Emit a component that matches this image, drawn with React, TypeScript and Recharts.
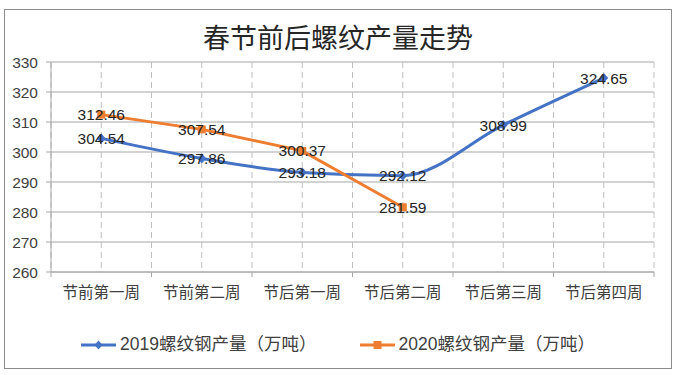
import React from 'react';
import { LineChart, Line, XAxis, YAxis, CartesianGrid } from 'recharts';

// 周次
const weeks = ['节前第一周', '节前第二周', '节后第一周', '节后第二周', '节后第三周', '节后第四周'];
// 螺纹钢产量（万吨）
const output2019 = [304.54, 297.86, 293.18, 292.12, 308.99, 324.65];
const output2020 = [312.46, 307.54, 300.37, 281.59, null, null];
const yTicks = [260, 270, 280, 290, 300, 310, 320, 330];

const BLUE = '#4472C4';
const ORANGE = '#ED7D31';
const FONT = '"Liberation Sans", "Noto Sans CJK SC", sans-serif';

const data = weeks.map((week, i) => ({
  week,
  y2019: output2019[i],
  y2020: output2020[i],
}));

const DiamondDot = (props: any) => {
  const { cx, cy, index } = props;
  if (cx == null || cy == null) return <g key={`d-${index}`} />;
  return (
    <path
      key={`d-${index}`}
      d={`M${cx},${cy - 5} L${cx + 4.5},${cy} L${cx},${cy + 5} L${cx - 4.5},${cy} Z`}
      fill={BLUE}
    />
  );
};

const SquareDot = (props: any) => {
  const { cx, cy, index } = props;
  if (cx == null || cy == null) return <g key={`s-${index}`} />;
  return <rect key={`s-${index}`} x={cx - 4} y={cy - 4} width={8} height={8} fill={ORANGE} />;
};

const valueLabel = (props: any) => {
  const { x, y, value, index } = props;
  if (value == null) return <g key={`l-${index}`} />;
  return (
    <text
      key={`l-${index}`}
      x={x}
      y={y}
      dy="0.36em"
      textAnchor="middle"
      fontSize={15.5}
      fontFamily={FONT}
      fill="#262626"
    >
      {value.toFixed(2)}
    </text>
  );
};

// 类目标签居中，刻度线画在类目之间
const WeekTick = (props: any) => {
  const { x, y, payload, index, visibleTicksCount } = props;
  const half = payload?.offset ?? 50;
  const last = index === (visibleTicksCount ?? weeks.length) - 1;
  return (
    <g>
      <line x1={x - half} x2={x - half} y1={y - 5} y2={y} stroke="#a6a6a6" />
      {last && <line x1={x + half} x2={x + half} y1={y - 5} y2={y} stroke="#a6a6a6" />}
      <text
        x={x}
        y={y + 15}
        dy="0.36em"
        textAnchor="middle"
        fontSize={15.5}
        fontFamily={FONT}
        fill="#404040"
      >
        {payload.value}
      </text>
    </g>
  );
};

const halfStepLines = (props: any) => {
  const { offset } = props;
  const w = offset.width ?? props.width - offset.left - offset.right;
  return Array.from({ length: 13 }, (_, i) => offset.left + (w * i) / 12);
};

const LegendItem: React.FC<{ color: string; label: string; square?: boolean }> = ({ color, label, square }) => (
  <div style={{ display: 'flex', alignItems: 'center' }}>
    <svg width={36} height={12} style={{ marginRight: 3 }}>
      <line x1={0} x2={35} y1={6} y2={6} stroke={color} strokeWidth={3} />
      {square ? (
        <rect x={13.5} y={2} width={8} height={8} fill={color} />
      ) : (
        <path d="M17.5,1.5 L21.5,6 L17.5,10.5 L13.5,6 Z" fill={color} />
      )}
    </svg>
    <span style={{ fontSize: 17.5, fontFamily: FONT, color: '#404040', lineHeight: 1 }}>{label}</span>
  </div>
);

const App: React.FC = () => {
  return (
    <div style={{ position: 'absolute', left: 0, top: 0, width: 676, height: 375, background: '#fff' }}>
      <div
        style={{
          position: 'absolute',
          left: 4,
          top: 9,
          width: 668,
          height: 360,
          boxSizing: 'border-box',
          border: '1px solid #8c8c8c',
        }}
      />
      <div
        style={{
          position: 'absolute',
          left: 0,
          top: 26,
          width: 676,
          textAlign: 'center',
          fontSize: 27,
          lineHeight: '27px',
          fontFamily: FONT,
          color: '#262626',
        }}
      >
        春节前后螺纹产量走势
      </div>
      <LineChart
        width={676}
        height={375}
        data={data}
        margin={{ top: 62, right: 22, left: 11, bottom: 73 }}
        style={{ position: 'absolute', left: 0, top: 0 }}
      >
        <CartesianGrid horizontal vertical={false} stroke="#a6a6a6" />
        <CartesianGrid
          horizontal={false}
          vertical
          stroke="#bfbfbf"
          strokeDasharray="6 4"
          verticalCoordinatesGenerator={halfStepLines}
        />
        <XAxis
          dataKey="week"
          scale="band"
          height={30}
          axisLine={{ stroke: '#a6a6a6' }}
          tickLine={false}
          tickSize={5}
          tickMargin={0}
          interval={0}
          tick={<WeekTick />}
        />
        <YAxis
          domain={[260, 330]}
          ticks={yTicks}
          width={40}
          axisLine={{ stroke: '#a6a6a6' }}
          tickLine={{ stroke: '#a6a6a6' }}
          tickSize={5}
          tickMargin={8}
          tick={{ fontSize: 15.5, fontFamily: FONT, fill: '#404040' }}
        />
        <Line
          dataKey="y2019"
          type="monotone"
          stroke={BLUE}
          strokeWidth={3}
          dot={DiamondDot}
          activeDot={false}
          label={valueLabel}
          isAnimationActive={false}
        />
        <Line
          dataKey="y2020"
          type="linear"
          stroke={ORANGE}
          strokeWidth={3}
          dot={SquareDot}
          activeDot={false}
          label={valueLabel}
          connectNulls={false}
          isAnimationActive={false}
        />
      </LineChart>
      <div
        style={{
          position: 'absolute',
          left: 0,
          top: 336,
          width: 676,
          display: 'flex',
          justifyContent: 'center',
          gap: 43,
        }}
      >
        <LegendItem color={BLUE} label="2019螺纹钢产量（万吨）" />
        <LegendItem color={ORANGE} label="2020螺纹钢产量（万吨）" square />
      </div>
    </div>
  );
};

export default App;
